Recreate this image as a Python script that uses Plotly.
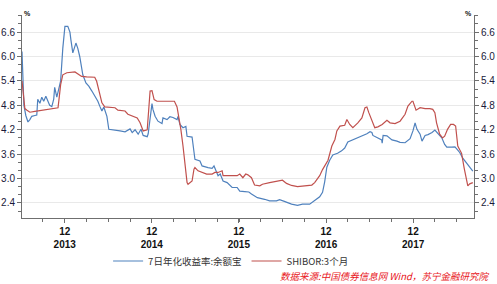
import plotly.graph_objects as go

# 7-day annualized yield of Yu'e Bao (%)
yeb_dates = ["2013-07-05","2013-07-09","2013-07-13","2013-07-21","2013-07-30","2013-08-07","2013-08-15","2013-08-28",
             "2013-09-05","2013-09-09","2013-09-18","2013-09-26","2013-10-04","2013-10-13","2013-10-21","2013-10-29",
             "2013-11-07","2013-11-15","2013-11-19","2013-11-28","2013-12-06","2013-12-14","2013-12-23","2014-01-01",
             "2014-01-13","2014-01-22","2014-01-26","2014-02-03","2014-02-16","2014-02-24","2014-03-04","2014-03-17",
             "2014-03-30","2014-04-11","2014-04-24","2014-05-06","2014-05-19","2014-05-27","2014-06-05","2014-06-13",
             "2014-06-26","2014-07-04","2014-07-30","2014-08-20","2014-09-10","2014-10-01","2014-10-10","2014-10-22",
             "2014-11-04","2014-11-16","2014-11-25","2014-12-12","2014-12-16","2014-12-24","2015-01-01","2015-01-05",
             "2015-01-14","2015-01-26","2015-02-12","2015-02-16","2015-03-05","2015-03-17","2015-03-30","2015-04-16",
             "2015-04-20","2015-04-28","2015-05-11","2015-05-23","2015-05-28","2015-06-18","2015-06-22","2015-06-30",
             "2015-07-21","2015-07-30","2015-08-24","2015-09-10","2015-09-18","2015-10-01","2015-10-05","2015-10-14",
             "2015-10-26","2015-11-12","2015-12-03","2015-12-24","2016-01-04","2016-01-25","2016-02-11","2016-02-22",
             "2016-03-18","2016-04-17","2016-05-08","2016-06-06","2016-06-19","2016-07-09","2016-08-08","2016-09-02",
             "2016-09-23","2016-10-23","2016-11-13","2016-12-04","2016-12-16","2016-12-25","2017-01-03","2017-01-15",
             "2017-01-28","2017-02-17","2017-03-06","2017-03-19","2017-04-01","2017-04-22","2017-05-09","2017-05-30",
             "2017-06-20","2017-07-03","2017-07-11","2017-07-15","2017-08-05","2017-08-21","2017-08-23","2017-08-27",
             "2017-09-12","2017-10-03","2017-10-24","2017-11-06","2017-11-27","2017-12-18","2017-12-30","2018-01-08",
             "2018-01-16","2018-01-29","2018-02-06","2018-02-19","2018-03-03","2018-03-20","2018-04-01","2018-04-13",
             "2018-04-30","2018-05-12","2018-05-21","2018-06-11","2018-06-24","2018-07-06","2018-07-14","2018-07-27",
             "2018-08-13","2018-08-25","2018-09-07"]
yeb_vals = [6.12, 5.30, 4.80, 4.55, 4.39, 4.45, 4.53, 4.55,
            4.56, 4.95, 4.85, 5.00, 4.90, 5.02, 4.90, 4.80,
            4.77, 4.95, 5.24, 5.00, 5.20, 5.40, 6.20, 6.74,
            6.74, 6.60, 6.41, 6.09, 6.33, 6.20, 6.00, 5.55,
            5.35, 5.27, 5.15, 5.04, 4.90, 4.78, 4.66, 4.76,
            4.53, 4.21, 4.18, 4.17, 4.15, 4.22, 4.13, 4.20,
            4.09, 4.21, 4.06, 4.03, 4.10, 4.45, 4.84, 4.70,
            4.53, 4.41, 4.35, 4.49, 4.45, 4.52, 4.50, 4.45,
            4.53, 4.33, 4.25, 4.28, 4.04, 4.02, 3.80, 3.47,
            3.43, 3.31, 3.27, 3.25, 3.31, 3.15, 3.07, 3.11,
            2.94, 2.90, 2.78, 2.78, 2.69, 2.68, 2.67, 2.62,
            2.53, 2.49, 2.45, 2.45, 2.48, 2.44, 2.37, 2.34,
            2.37, 2.37, 2.45, 2.55, 2.66, 2.92, 3.28, 3.45,
            3.58, 3.62, 3.68, 3.75, 3.90, 3.95, 4.00, 4.04,
            4.10, 4.15, 4.13, 4.06, 4.00, 3.95, 3.87, 4.06,
            4.05, 3.95, 3.92, 3.89, 3.88, 3.98, 4.17, 4.37,
            4.21, 4.09, 3.92, 4.06, 4.08, 4.13, 4.19, 4.10,
            4.00, 3.84, 3.77, 3.77, 3.78, 3.70, 3.64, 3.50,
            3.38, 3.27, 3.18]

# SHIBOR 3-month (%)
shibor_dates = ["2013-07-05","2013-07-09","2013-07-17","2013-07-26","2013-08-07","2013-08-28","2013-09-18","2013-10-29",
                "2013-12-03","2013-12-07","2013-12-14","2013-12-23","2014-01-09","2014-02-12","2014-02-24","2014-03-12",
                "2014-04-02","2014-05-06","2014-05-14","2014-05-22","2014-05-27","2014-06-05","2014-06-17","2014-07-30",
                "2014-08-11","2014-09-10","2014-09-22","2014-10-10","2014-10-31","2014-11-12","2014-11-20","2014-11-25",
                "2014-12-12","2014-12-16","2014-12-24","2015-01-01","2015-01-10","2015-01-22","2015-03-17","2015-04-05",
                "2015-04-16","2015-04-24","2015-05-02","2015-05-11","2015-05-19","2015-05-28","2015-06-01","2015-06-18",
                "2015-06-26","2015-06-30","2015-07-13","2015-08-01","2015-08-18","2015-09-10","2015-09-22","2015-10-05",
                "2015-10-22","2015-10-26","2015-12-24","2016-01-04","2016-01-17","2016-01-29","2016-02-07","2016-02-22",
                "2016-03-06","2016-03-28","2016-04-08","2016-05-08","2016-05-29","2016-07-01","2016-07-18","2016-08-08",
                "2016-09-02","2016-09-23","2016-11-01","2016-11-13","2016-11-26","2016-12-04","2016-12-16","2016-12-25",
                "2017-01-08","2017-01-24","2017-02-06","2017-02-14","2017-02-27","2017-03-19","2017-03-28","2017-04-09",
                "2017-04-22","2017-05-13","2017-05-30","2017-06-12","2017-06-20","2017-06-28","2017-07-11","2017-07-23",
                "2017-08-05","2017-08-23","2017-09-12","2017-09-25","2017-10-16","2017-11-06","2017-11-27","2017-12-09",
                "2017-12-26","2017-12-30","2018-01-12","2018-01-29","2018-02-19","2018-03-11","2018-03-23","2018-04-01",
                "2018-04-08","2018-04-21","2018-05-03","2018-05-12","2018-05-24","2018-06-06","2018-06-18","2018-06-27",
                "2018-07-06","2018-07-22","2018-08-02","2018-08-13","2018-08-17","2018-08-25","2018-09-07"]
shibor_vals = [5.40, 5.10, 4.72, 4.68, 4.63, 4.65, 4.67, 4.70,
               4.74, 4.94, 5.31, 5.55, 5.60, 5.62, 5.58, 5.51,
               5.50, 5.49, 5.39, 5.19, 5.02, 4.86, 4.76, 4.74,
               4.68, 4.66, 4.58, 4.53, 4.49, 4.37, 4.21, 4.17,
               4.20, 4.53, 5.15, 5.16, 4.94, 4.90, 4.90, 4.90,
               4.76, 4.53, 4.21, 3.80, 3.31, 2.90, 2.86, 2.94,
               3.23, 3.27, 3.19, 3.15, 3.11, 3.11, 3.15, 3.15,
               3.19, 3.07, 3.07, 3.11, 3.02, 3.11, 3.09, 3.02,
               2.84, 2.82, 2.86, 2.90, 2.93, 2.96, 2.88, 2.83,
               2.80, 2.82, 2.84, 2.90, 3.02, 3.07, 3.22, 3.30,
               3.45, 3.80, 3.96, 4.17, 4.29, 4.31, 4.45, 4.33,
               4.25, 4.37, 4.49, 4.74, 4.76, 4.62, 4.41, 4.25,
               4.27, 4.33, 4.43, 4.37, 4.35, 4.41, 4.58, 4.78,
               4.90, 4.90, 4.68, 4.74, 4.72, 4.72, 4.70, 4.62,
               4.37, 4.09, 4.00, 4.04, 4.21, 4.33, 4.33, 4.29,
               3.80, 3.62, 3.25, 2.90, 2.82, 2.87, 2.90]

series_names = ["7日年化收益率:余额宝", "SHIBOR:3个月"]
year_ticks = ["2013-12-31", "2014-12-31", "2015-12-31", "2016-12-31", "2017-12-31"]
year_labels = ["12<br>2013", "12<br>2014", "12<br>2015", "12<br>2016", "12<br>2017"]
y_ticks = [2.4, 3.0, 3.6, 4.2, 4.8, 5.4, 6.0, 6.6]
y_range = [2.03, 7.02]
x_range = ["2013-07-05", "2018-09-12"]

BLUE = "#4F81BD"
RED = "#C0504D"
AXIS = "#6f6f6f"
FONT = "Liberation Sans, Arial, sans-serif"
CJK = "Noto Sans CJK SC, sans-serif"

fig = go.Figure()
fig.add_trace(go.Scatter(x=yeb_dates, y=yeb_vals, mode="lines", name=series_names[0],
                         line=dict(color=BLUE, width=1.2)))
fig.add_trace(go.Scatter(x=shibor_dates, y=shibor_vals, mode="lines", name=series_names[1],
                         line=dict(color=RED, width=1.2), yaxis="y2"))

yax_common = dict(range=y_range, tickvals=y_ticks, ticktext=[f"{v:.1f}" for v in y_ticks],
                  showline=True, linecolor=AXIS, linewidth=1, ticks="outside", ticklen=4,
                  tickcolor=AXIS, tickwidth=1, zeroline=False, automargin=False,
                  tickfont=dict(family=FONT, size=10, color="#1a1a3a"),
                  minor=dict(dtick=0.2, tick0=2.0, ticks="outside", ticklen=3, tickcolor=AXIS, showgrid=False))

fig.update_layout(
    width=497, height=284,
    margin=dict(l=22, r=23, t=15, b=66, autoexpand=False),
    plot_bgcolor="white", paper_bgcolor="white",
    xaxis=dict(type="date", range=x_range, tickvals=year_ticks, ticktext=year_labels,
               showgrid=False, showline=True, linecolor=AXIS, linewidth=1, automargin=False,
               ticks="outside", ticklen=4, tickcolor=AXIS, zeroline=False,
               tickfont=dict(family=FONT, size=10, color="#111111", weight="bold"),
               minor=dict(tick0="2014-01-01", dtick="M3", ticks="outside", ticklen=3,
                          tickcolor=AXIS, showgrid=False)),
    yaxis=dict(**yax_common, side="left", showgrid=True, gridcolor="#e9e9e9", gridwidth=1),
    yaxis2=dict(**yax_common, side="right", overlaying="y", anchor="x", showgrid=False),
    showlegend=True,
    legend=dict(orientation="h", xref="container", yref="container", x=0.465, y=1 - 261 / 284,
                xanchor="center", yanchor="middle", font=dict(family=CJK, size=9.5, color="#333333"),
                bgcolor="rgba(0,0,0,0)", itemwidth=30, tracegroupgap=0),
    annotations=[
        dict(text="%", xref="paper", yref="paper", x=0, y=1.0, xanchor="left", yanchor="bottom",
             showarrow=False, font=dict(family=FONT, size=7, color="#111111", weight="bold"), yshift=-4),
        dict(text="%", xref="paper", yref="paper", x=1, y=1.0, xanchor="right", yanchor="bottom",
             showarrow=False, font=dict(family=FONT, size=7, color="#111111", weight="bold"), yshift=-4),
        dict(text="数据来源:中国债券信息网 Wind，苏宁金融研究院", xref="paper", yref="paper",
             x=(491 - 22) / 452, y=(218 - 276) / 203, xanchor="right", yanchor="middle", showarrow=False,
             font=dict(family=CJK, size=9.5, color="#e8141a", style="italic")),
    ],
)

fig.write_html("out.html")
